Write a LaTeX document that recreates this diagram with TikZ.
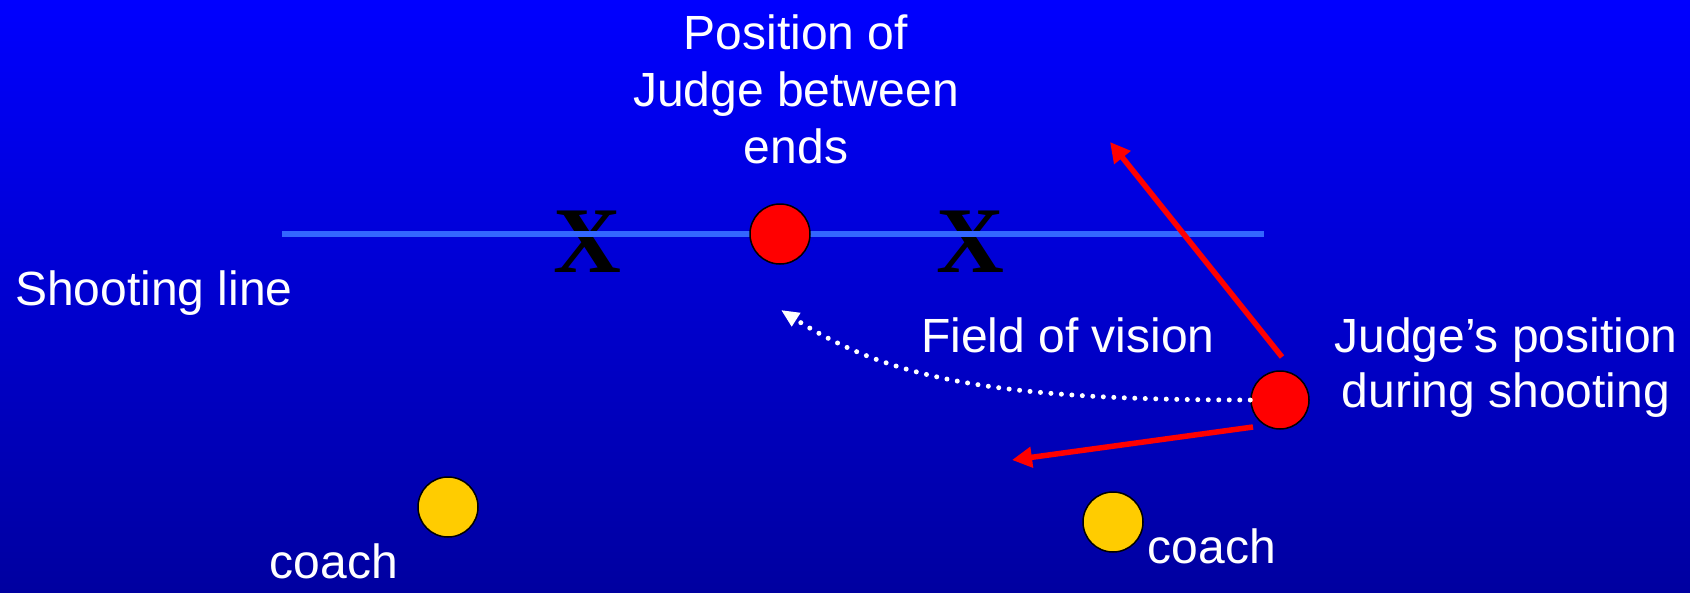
\documentclass[tikz,border=0pt]{standalone}
\usepackage{fontspec}
\setmainfont{Liberation Sans}
\newfontfamily\xfont{Liberation Serif}
\usetikzlibrary{arrows.meta}
\definecolor{deepblue}{RGB}{0,0,160}
\definecolor{linelight}{RGB}{51,102,255}
\definecolor{coachyellow}{RGB}{255,204,0}

\begin{document}
\begin{tikzpicture}[>=Latex,x=1pt,y=-1pt,
    lbl/.style={text=white,font=\fontsize{48}{57}\selectfont,inner sep=0pt},
    dot/.style={circle,draw=black,line width=1.5pt,minimum size=60pt,inner sep=0pt},
    judgedot/.style={dot,fill=red},
    coachdot/.style={dot,fill=coachyellow},
    xmark/.style={font=\xfont\bfseries\fontsize{94}{94}\selectfont,inner sep=0pt,anchor=base},
    redarrow/.style={red,line width=5.5pt,-{Triangle[length=20pt,width=20pt]}},
    vision/.style={white,line width=5pt,line cap=round,dash pattern=on 0pt off 10.5pt,
      -{Triangle[length=18pt,width=15pt]}}]
  % background
  \fill[top color=blue,bottom color=deepblue] (0,0) rectangle (1690,592);
  \useasboundingbox (0,0) rectangle (1690,592);
  % ends on the shooting line
  \foreach \n/\xx in {xL/587, xR/970} {
    \node[xmark] (\n) at (\xx,272) {X};
  }
  \coordinate (lineL) at (282,234);
  \coordinate (lineR) at (1264,234);
  \draw[linelight,line width=6pt] (lineL) -- (lineR);
  % judges and coaches
  \node[judgedot] (between) at (780,234) {};
  \node[judgedot,minimum size=58pt] (during) at (1280,400) {};
  \node[coachdot] (coachL) at (448,507) {};
  \node[coachdot] (coachR) at (1113,522) {};
  % labels (base = last line)
  \node[lbl,align=center,anchor=base] (betweenlbl) at (796,163) {Position of\\Judge between\\ends};
  \node[lbl,anchor=base west] (shootlbl) at (15,305) {Shooting line};
  \node[lbl,anchor=base west] (visionlbl) at (921,352) {Field of vision};
  \node[lbl,align=center,anchor=base,font=\fontsize{48}{55}\selectfont] (duringlbl) at (1506,407)
    {Judge’s position\\during shooting};
  \node[lbl,anchor=base] (coachLlbl) at (334,578) {coach};
  \node[lbl,anchor=base] (coachRlbl) at (1212,563) {coach};
  % lines of sight
  \coordinate (upFoot) at (1282,357);
  \coordinate (upTip) at (1110,142);
  \coordinate (leftFoot) at (1253,427);
  \coordinate (leftTip) at (1012,460);
  \coordinate (visionTip) at (781,310);
  \draw[redarrow] (upFoot) -- (upTip);
  \draw[redarrow] (leftFoot) -- (leftTip);
  \draw[vision] (during.west) .. controls (1000,400) and (890,380) .. (visionTip);
\end{tikzpicture}
\end{document}
